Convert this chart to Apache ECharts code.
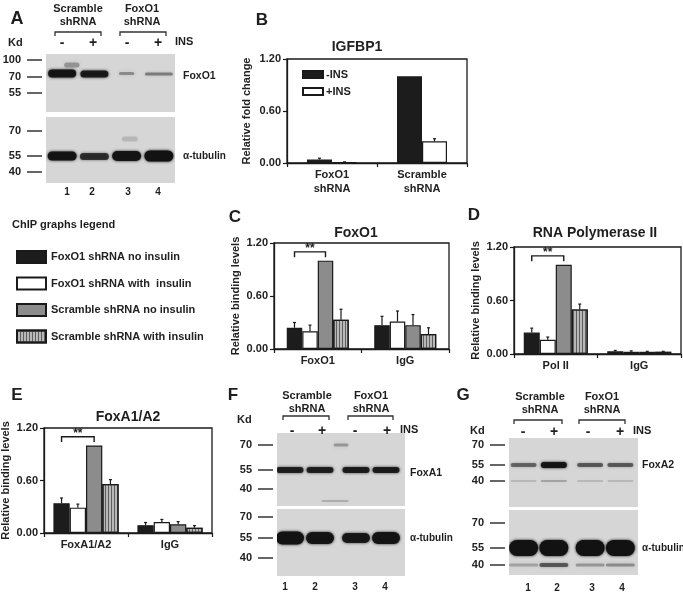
<!DOCTYPE html>
<html><head><meta charset="utf-8">
<script src="https://cdn.jsdelivr.net/npm/echarts@6/dist/echarts.min.js"></script>
<style>html,body{margin:0;padding:0;background:#fff}#c{width:683px;height:595px}</style>
</head><body><div id="c"></div>
<script>
// ================= DATA =================
// Panel B – IGFBP1 relative fold change
const bCategories = ['FoxO1\nshRNA', 'Scramble\nshRNA'];
const bMinusIns = [0.04, 1.00];
const bMinusInsErr = [0.015, 0];
const bPlusIns = [0.01, 0.25];
const bPlusInsErr = [0.003, 0.03];

// ChIP series (C, D, E)
const chipNames = ['FoxO1 shRNA no insulin', 'FoxO1 shRNA with  insulin', 'Scramble shRNA no insulin', 'Scramble shRNA with insulin'];
const yTickLabels = ['0.00', '0.60', '1.20'];

// Panel C – FoxO1 ChIP
const cCategories = ['FoxO1', 'IgG'];
const cFoxNo = [0.24, 0.27], cFoxNoErr = [0.06, 0.10];
const cFoxIns = [0.20, 0.31], cFoxInsErr = [0.07, 0.12];
const cScrNo = [1.00, 0.27], cScrNoErr = [0, 0.12];
const cScrIns = [0.33, 0.17], cScrInsErr = [0.12, 0.07];

// Panel D – RNA Polymerase II ChIP
const dCategories = ['Pol II', 'IgG'];
const dFoxNo = [0.24, 0.03], dFoxNoErr = [0.05, 0.01];
const dFoxIns = [0.16, 0.025], dFoxInsErr = [0.03, 0.01];
const dScrNo = [1.00, 0.025], dScrNoErr = [0, 0.005];
const dScrIns = [0.50, 0.025], dScrInsErr = [0.06, 0.005];

// Panel E – FoxA1/A2 ChIP
const eCategories = ['FoxA1/A2', 'IgG'];
const eFoxNo = [0.34, 0.09], eFoxNoErr = [0.06, 0.03];
const eFoxIns = [0.29, 0.125], eFoxInsErr = [0.04, 0.03];
const eScrNo = [1.00, 0.10], eScrNoErr = [0, 0.03];
const eScrIns = [0.56, 0.06], eScrInsErr = [0.05, 0.025];

// significance bracket: [category, fromBar, toBar, level, footLevel]
const sigBracket = [[0, 0, 2, 1.10, 1.04]];

// Western blots: bands [lane, migration, intensity, thickness]
const laneLabels = ['1', '2', '3', '4'];
const insLabels = ['-', '+', '-', '+'];
const blotA_FoxO1 = [[1, 19.5, 0.95, 8], [2, 20, 0.9, 7], [3, 19.5, 0.35, 3], [4, 20, 0.4, 3], [1.3, 11, 0.3, 5]];
const blotA_Tub = [[1, 39, 0.95, 9], [2, 39.5, 0.75, 7], [3, 39, 0.95, 10], [4, 39, 1.0, 11], [3.1, 22, 0.15, 5]];
const blotF_FoxA1 = [[1, 37, 0.85, 6], [2, 37, 0.85, 6], [3.2, 37, 0.88, 6], [4.2, 37, 0.88, 6], [2.7, 12, 0.3, 3], [2.5, 68, 0.2, 2]];
const blotF_Tub = [[1, 29, 1, 13], [2, 29, 0.95, 12], [3.2, 29, 0.9, 10], [4.2, 29, 0.95, 12]];
const blotG_FoxA2 = [[1, 27, 0.5, 4], [2, 27, 0.95, 6], [3.2, 27, 0.55, 4], [4.2, 27, 0.55, 4],
                     [1, 43, 0.15, 2], [2, 43, 0.25, 2], [3.2, 43, 0.15, 2], [4.2, 43, 0.15, 2]];
const blotG_Tub = [[1, 38, 1, 16], [2, 38, 1, 16], [3.2, 38, 1, 16], [4.2, 38, 1, 16],
                   [1, 55, 0.25, 3], [2, 55, 0.55, 4], [3.2, 55, 0.3, 3], [4.2, 55, 0.35, 3]];
const markA_top = [[6, '100'], [23, '70'], [39, '55']];
const markA_bot = [[14, '70'], [39, '55'], [55, '40']];
const markF_top = [[12, '70'], [37, '55'], [56, '40']];
const markF_bot = [[8, '70'], [29, '55'], [49, '40']];
const markG_top = [[7, '70'], [27, '55'], [43, '40']];
const markG_bot = [[13, '70'], [38, '55'], [55, '40']];

// ================= STYLE / LAYOUT =================
const FONT = 'Liberation Sans, Arial, Helvetica, sans-serif';
const INK = '#1a1a1a';
const chipStyles = [
  {color: '#1c1c1c', borderColor: INK, borderWidth: 1.2},
  {color: '#ffffff', borderColor: INK, borderWidth: 1.2},
  {color: '#8c8c8c', borderColor: INK, borderWidth: 1.2},
  {color: '#b8b8b8', borderColor: INK, borderWidth: 1.2,
   decal: {symbol: 'rect', symbolSize: 1, dashArrayX: [1, 2], dashArrayY: [4, 0], color: 'rgba(80,80,80,0.85)'}}
];

const grids = [], xAxes = [], yAxes = [], series = [];

function addBarGrid(rect, cats, yName, nameGap) {
  const gi = grids.length;
  grids.push(Object.assign({show: true, borderColor: INK, borderWidth: 1.3, backgroundColor: 'transparent', containLabel: false, outerBoundsMode: 'none'}, rect));
  xAxes.push({type: 'category', gridIndex: gi, data: cats,
    axisLine: {show: true, lineStyle: {color: INK, width: 1.3}},
    axisTick: {show: true, length: 4, interval: 0, alignWithLabel: false, lineStyle: {color: INK, width: 1.2}},
    axisLabel: {color: '#222', fontFamily: FONT, fontWeight: 'bold', fontSize: 11, margin: 5, lineHeight: 14, interval: 0},
    splitLine: {show: false}});
  yAxes.push({type: 'value', gridIndex: gi, min: 0, max: 1.2, interval: 0.6,
    axisLine: {show: true, lineStyle: {color: INK, width: 1.3}},
    axisTick: {show: true, length: 4, lineStyle: {color: INK, width: 1.2}},
    axisLabel: {color: '#222', fontFamily: FONT, fontWeight: 'bold', fontSize: 11, margin: 6,
      formatter: v => yTickLabels[Math.round(v / 0.6)]},
    splitLine: {show: false},
    name: yName, nameLocation: 'middle', nameGap: nameGap, nameRotate: 90,
    nameTextStyle: {color: '#222', fontFamily: FONT, fontWeight: 'bold', fontSize: 11}});
  return gi;
}

function addErrors(gi, vals, errs, bw) {
  const n = vals.length, data = [];
  vals.forEach((arr, s) => arr.forEach((v, c) => data.push([c, s, v, errs[s][c]])));
  series.push({type: 'custom', xAxisIndex: gi, yAxisIndex: gi, data, z: 5, silent: true, clip: false,
    encode: {x: 0, y: 2},
    renderItem: (p, api) => {
      const c = api.value(0), s = api.value(1), v = api.value(2), e = api.value(3);
      if (!e) return {type: 'group', children: []};
      const b = api.coord([c, v]);
      const x = b[0] + (s - (n - 1) / 2) * bw;
      const y2 = api.coord([c, v + e])[1];
      const st = {stroke: INK, lineWidth: 1.2};
      return {type: 'group', children: [
        {type: 'line', shape: {x1: x, y1: b[1], x2: x, y2: y2}, style: st},
        {type: 'line', shape: {x1: x - 1.5, y1: y2, x2: x + 1.5, y2: y2}, style: st}]};
    }});
}

function addChip(rect, cats, vals, errs, bw) {
  const gi = addBarGrid(rect, cats, 'Relative binding levels', 33);
  vals.forEach((d, s) => series.push({type: 'bar', name: chipNames[s], xAxisIndex: gi, yAxisIndex: gi, data: d,
    barWidth: bw, barGap: '0%', itemStyle: chipStyles[s], silent: true}));
  addErrors(gi, vals, errs, bw);
  series.push({type: 'custom', xAxisIndex: gi, yAxisIndex: gi, data: sigBracket, z: 6, silent: true, clip: false,
    encode: {x: 0, y: 3},
    renderItem: (p, api) => {
      const c = api.value(0), a = api.value(1), b = api.value(2), lv = api.value(3), ft = api.value(4);
      const cen = api.coord([c, lv]);
      const x1 = cen[0] + (a - 1.5) * bw, x2 = cen[0] + (b - 1.5) * bw;
      const y = cen[1], yf = api.coord([c, ft])[1];
      return {type: 'group', children: [
        {type: 'polyline', shape: {points: [[x1, yf], [x1, y], [x2, y], [x2, yf]]}, style: {stroke: INK, lineWidth: 1.4, fill: null}},
        {type: 'text', style: {x: (x1 + x2) / 2, y: y + 3, text: '**', fill: INK, font: 'bold 12px ' + FONT, textAlign: 'center', textVerticalAlign: 'bottom'}}]};
    }});
}

function addBlot(rect, xMin, xMax, yMax, bands, bandW, marks) {
  const gi = grids.length;
  grids.push(Object.assign({show: true, borderWidth: 0, backgroundColor: '#d6d6d6', containLabel: false, outerBoundsMode: 'none'}, rect));
  xAxes.push({type: 'value', gridIndex: gi, min: xMin, max: xMax, show: false});
  yAxes.push({type: 'value', gridIndex: gi, min: 0, max: yMax, inverse: true, show: false});
  series.push({type: 'custom', xAxisIndex: gi, yAxisIndex: gi, data: bands, silent: true, clip: true,
    renderItem: (p, api) => {
      const pt = api.coord([api.value(0), api.value(1)]);
      const it = api.value(2), th = api.value(3);
      const faint = it < 0.4;
      const w = faint && th <= 5 && api.value(1) < 25 ? bandW * 0.55 : bandW;
      const col = 'rgba(18,18,18,' + it + ')';
      return {type: 'rect', shape: {x: pt[0] - w / 2, y: pt[1] - th / 2, width: w, height: th, r: th / 2},
        style: {fill: col, shadowBlur: faint ? 5 : 3, shadowColor: col}};
    }});
  series.push({type: 'custom', xAxisIndex: gi, yAxisIndex: gi, data: marks.map(m => [xMin, m[0]]), silent: true, clip: false,
    renderItem: (p, api) => {
      const pt = api.coord([api.value(0), api.value(1)]);
      const x2 = pt[0] - 4, x1 = x2 - 15;
      return {type: 'group', children: [
        {type: 'line', shape: {x1, y1: pt[1], x2, y2: pt[1]}, style: {stroke: '#333', lineWidth: 1.5}},
        {type: 'text', style: {x: x1 - 6, y: pt[1], text: marks[p.dataIndex][1], fill: '#222', font: 'bold 11px ' + FONT, textAlign: 'right', textVerticalAlign: 'middle'}}]};
    }});
}

// ---- Panel B ----
const gB = addBarGrid({left: 287, top: 59, width: 180, height: 104}, bCategories, 'Relative fold change', 35);
series.push({type: 'bar', name: '-INS', xAxisIndex: gB, yAxisIndex: gB, data: bMinusIns, barWidth: 25, barGap: '0%', itemStyle: chipStyles[0], silent: true});
series.push({type: 'bar', name: '+INS', xAxisIndex: gB, yAxisIndex: gB, data: bPlusIns, barWidth: 25, barGap: '0%', itemStyle: chipStyles[1], silent: true});
addErrors(gB, [bMinusIns, bPlusIns], [bMinusInsErr, bPlusInsErr], 25);

// ---- Panels C, D, E ----
addChip({left: 274, top: 243, width: 175, height: 106}, cCategories, [cFoxNo, cFoxIns, cScrNo, cScrIns], [cFoxNoErr, cFoxInsErr, cScrNoErr, cScrInsErr], 15.5);
addChip({left: 514, top: 247, width: 167, height: 107}, dCategories, [dFoxNo, dFoxIns, dScrNo, dScrIns], [dFoxNoErr, dFoxInsErr, dScrNoErr, dScrInsErr], 16);
addChip({left: 44, top: 428, width: 168, height: 105}, eCategories, [eFoxNo, eFoxIns, eScrNo, eScrIns], [eFoxNoErr, eFoxInsErr, eScrNoErr, eScrInsErr], 16.3);

// ---- Blots ----
addBlot({left: 46, top: 54, width: 129, height: 58}, 0.5, 4.5, 58, blotA_FoxO1, 28, markA_top);
addBlot({left: 46, top: 117, width: 129, height: 66}, 0.5, 4.5, 66, blotA_Tub, 29, markA_bot);
addBlot({left: 277, top: 433, width: 128, height: 73}, 0.567, 4.833, 73, blotF_FoxA1, 27, markF_top);
addBlot({left: 277, top: 509, width: 128, height: 67}, 0.567, 4.833, 67, blotF_Tub, 28, markF_bot);
addBlot({left: 509, top: 438, width: 129, height: 69}, 0.517, 4.783, 69, blotG_FoxA2, 26, markG_top);
addBlot({left: 509, top: 510, width: 129, height: 65}, 0.517, 4.783, 65, blotG_Tub, 29, markG_bot);

// ---- text annotations ----
const g = [];
function T(x, y, text, size, align, weight) {
  g.push({type: 'text', x, y, silent: true, style: {text, fill: '#1e1e1e', font: (weight || 'bold') + ' ' + size + 'px ' + FONT,
    textAlign: align || 'center', textVerticalAlign: 'middle'}});
}
function BR(x1, x2, y) {
  g.push({type: 'polyline', silent: true, shape: {points: [[x1, y + 4], [x1, y], [x2, y], [x2, y + 4]]}, style: {stroke: '#333', lineWidth: 1.3, fill: null}});
}
function blotHeader(c1, c2, yTop, br1, br2, brY, kdX, kdY, lanesX, insY, insX) {
  T(c1, yTop, 'Scramble', 11); T(c1, yTop + 13, 'shRNA', 11);
  T(c2, yTop, 'FoxO1', 11); T(c2, yTop + 13, 'shRNA', 11);
  BR(br1[0], br1[1], brY); BR(br2[0], br2[1], brY);
  T(kdX, kdY, 'Kd', 11, 'left');
  lanesX.forEach((x, i) => T(x, insY, insLabels[i], 14));
  T(insX, insY - 1, 'INS', 11, 'left');
}
// A
T(17, 19, 'A', 18);
blotHeader(78, 142, 9, [55, 101], [120, 166], 32, 8, 43, [62, 93, 127, 158], 43, 175);
T(183, 76, 'FoxO1', 10.5, 'left'); T(183, 156, 'α-tubulin', 10, 'left');
[67, 92, 128, 158].forEach((x, i) => T(x, 192, laneLabels[i], 10));
T(12, 225, 'ChIP graphs legend', 11, 'left');
// B
T(262, 20, 'B', 17); T(357, 47, 'IGFBP1', 14);
// C, D, E
T(235, 217, 'C', 17); T(356, 233, 'FoxO1', 14);
T(474, 215, 'D', 17); T(595, 233, 'RNA Polymerase II', 14);
T(17, 395, 'E', 17); T(128, 417, 'FoxA1/A2', 14);
// F
T(233, 395, 'F', 17);
blotHeader(307, 371, 396, [283, 329], [348, 393], 416, 237, 420, [292, 322, 355, 387], 431, 400);
T(410, 473, 'FoxA1', 10.5, 'left'); T(410, 538, 'α-tubulin', 10, 'left');
[285, 315, 355, 385].forEach((x, i) => T(x, 587, laneLabels[i], 10));
// G
T(463, 395, 'G', 17);
blotHeader(540, 602, 397, [514, 562], [579, 625], 420, 470, 431, [523, 554, 588, 620], 432, 633);
T(642, 465, 'FoxA2', 10.5, 'left'); T(642, 548, 'α-tubulin', 10, 'left');
[528, 557, 592, 622].forEach((x, i) => T(x, 588, laneLabels[i], 10));

const chart = echarts.init(document.getElementById('c'), null, {renderer: 'canvas'});
chart.setOption({
  backgroundColor: '#ffffff',
  animation: false,
  textStyle: {fontFamily: FONT},
  grid: grids, xAxis: xAxes, yAxis: yAxes, series,
  legend: [
    {data: ['-INS', '+INS'], orient: 'vertical', left: 302, top: 69, itemWidth: 20, itemHeight: 7, itemGap: 6, icon: 'rect',
     selectedMode: false, padding: 0, textStyle: {color: '#222', fontFamily: FONT, fontWeight: 'bold', fontSize: 11, padding: [0, 0, 0, -2]}},
    {data: chipNames, orient: 'vertical', left: 16, top: 250, itemWidth: 29, itemHeight: 12, itemGap: 12.5, icon: 'rect',
     selectedMode: false, padding: 0, itemStyle: {borderWidth: 2},
     textStyle: {color: '#222', fontFamily: FONT, fontWeight: 'bold', fontSize: 11}}
  ],
  graphic: g
});
</script></body></html>
